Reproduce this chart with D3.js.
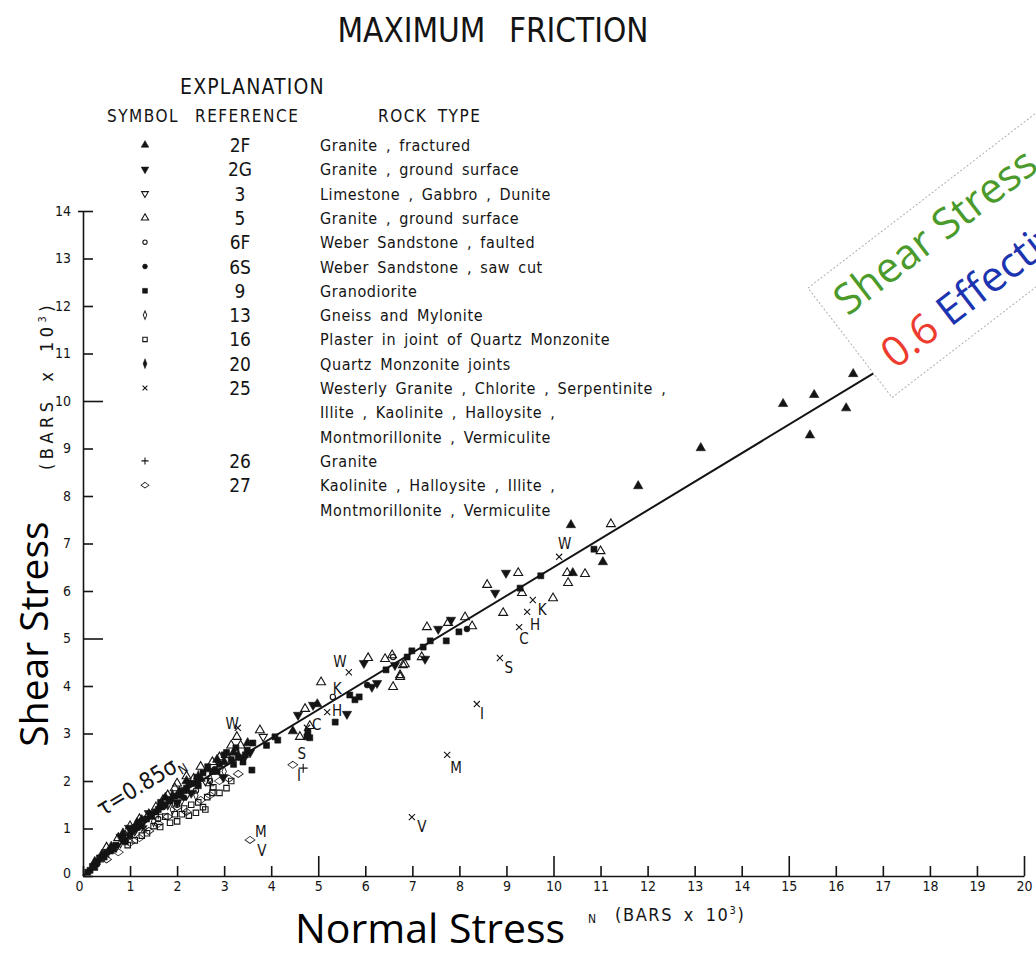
<!DOCTYPE html>
<html>
<meta charset="utf-8">
<style>
body { margin: 0; background: #fff; }
svg { display: block; background: #fff; }
.scan { font-family: "Liberation Sans Narrow", "DejaVu Sans Condensed", "Arial Narrow", sans-serif; fill: #141414; }
.ppt { font-family: "Open Sans", "Noto Sans", sans-serif; }
.axis path, .axis line { stroke: #141414; stroke-width: 1.6; }
.axis text { font-family: "Liberation Sans Narrow", "DejaVu Sans Condensed", sans-serif; font-size: 14px; fill: #141414; }
</style>
<svg width="1036" height="956"></svg>
<script src="https://d3js.org/d3.v7.min.js"></script>
<script>
// ---- data (sigma_N, tau in kbar) ----
var xTicks = [0,1,2,3,4,5,6,7,8,9,10,11,12,13,14,15,16,17,18,19,20];
var yTicks = [0,1,2,3,4,5,6,7,8,9,10,11,12,13,14];

var refs = ["2F","2G","3","5","6F","6S","9","13","16","20","25","26","27"];
var rockTypes = [
  ["Granite , fractured"],
  ["Granite , ground surface"],
  ["Limestone , Gabbro , Dunite"],
  ["Granite , ground surface"],
  ["Weber Sandstone , faulted"],
  ["Weber Sandstone , saw cut"],
  ["Granodiorite"],
  ["Gneiss and Mylonite"],
  ["Plaster in joint of Quartz Monzonite"],
  ["Quartz Monzonite joints"],
  ["Westerly Granite , Chlorite , Serpentinite ,", "Illite , Kaolinite , Halloysite ,", "Montmorillonite , Vermiculite"],
  ["Granite"],
  ["Kaolinite , Halloysite , Illite ,", "Montmorillonite , Vermiculite"]
];

var pts2F = [[16.37,10.57],[15.54,10.13],[14.88,9.94],[16.22,9.85],[15.45,9.28],[13.13,9.01],[11.80,8.21],
  [11.05,6.61],[10.37,7.39],[10.41,6.38],[4.46,3.05],[4.98,3.62],[0.55,0.52],[1.05,0.98],[1.45,1.25],
  [2.5,2.05],[3.0,2.4],[0.25,0.3],[0.6,0.62],[1.25,1.18],[1.65,1.5],[2.05,1.78],[2.65,2.25],[3.2,2.6],
  [0.4,0.45],[0.85,0.9],[1.15,1.12],[1.75,1.65],[2.2,2.0],[2.85,2.45],[3.5,2.8]];
var pts2G = [[8.99,6.38],[8.76,5.96],[7.82,5.39],[7.55,5.2],[7.27,4.57],[5.97,4.48],[6.25,4.06],[6.14,3.98],
  [6.63,4.44],[5.61,3.41],[4.89,3.6],[4.57,3.39],[0.98,1.01],[2.3,1.75],[2.98,2.08],[3.55,2.6],[2.0,1.55],
  [0.8,0.82],[1.85,1.62],[2.45,2.0],[1.4,1.32],[3.4,2.45]];
var pts3 = [[3.83,2.93],[1.1,0.95],[1.8,1.5],[2.6,2.0],[0.7,0.6],[2.2,1.7]];
var pts5 = [[11.22,7.41],[11.0,6.84],[10.67,6.36],[10.29,6.38],[10.31,6.17],[9.25,6.38],[8.59,6.13],[9.33,5.96],
  [9.99,5.85],[8.93,5.54],[8.12,5.45],[7.31,5.24],[7.76,5.33],[8.27,5.26],[7.2,4.61],[6.84,4.46],[6.74,4.23],
  [6.06,4.59],[6.42,4.57],[6.57,4.65],[6.8,4.44],[6.74,4.19],[6.59,3.98],[5.06,4.08],[4.72,3.52],[4.82,3.16],
  [4.61,2.93],[3.76,3.07],[3.27,2.93],[2.2,2.1],[1.8,1.7],[1.4,1.3],[2.9,2.5],[0.9,0.85],[0.75,0.8],[1.2,1.2],
  [1.55,1.45],[1.95,1.85],[2.35,2.05],[3.05,2.55],[3.35,2.75],[2.75,2.4],
  [0.5,0.6],[1.0,1.05],[1.7,1.6],[2.5,2.3],[3.15,2.75],[2.0,1.95]];
var pts6F = [[5.31,3.77],[6.59,4.61],[1.2,1.05],[2.4,1.8],[0.4,0.35],[1.6,1.2],[0.9,0.75],[2.0,1.5],[2.7,2.0]];
var pts6S = [[8.16,5.2],[6.04,4.02],[1.7,1.45],[2.8,2.25],[0.3,0.25],[2.15,1.65]];
var pts9 = [[10.86,6.88],[9.73,6.32],[9.29,6.06],[7.99,5.14],[7.72,4.95],[7.38,4.95],[7.23,4.82],[6.99,4.74],
  [6.89,4.61],[6.44,4.34],[5.67,3.81],[5.78,3.71],[5.87,3.77],[5.36,3.24],[4.78,3.03],[4.82,2.91],[4.76,2.93],
  [3.59,2.23],[3.61,2.8],[3.49,2.65],[2.55,2.17],[2.42,2.08],[3.2,2.35],[3.0,2.55],[2.2,1.85],[1.6,1.4],
  [0.3,0.3],[0.15,0.12],[0.6,0.55],[0.1,0.08],[0.2,0.2],[0.35,0.38],[0.45,0.4],[0.7,0.65],[0.85,0.78],
  [1.0,0.85],[1.15,1.02],[1.35,1.2],[1.55,1.35],[1.75,1.5],[1.95,1.68],[2.15,1.8],[2.35,1.95],[2.75,2.2],
  [2.9,2.35],[3.15,2.45],[3.3,2.5],[4.14,2.86],[4.08,2.93],[3.9,2.75],[3.4,2.4],
  [0.25,0.18],[0.5,0.5],[0.65,0.58],[0.9,0.72],[1.05,0.95],[1.25,1.05],[1.45,1.3],[1.65,1.55],[1.85,1.58],
  [2.05,1.7],[2.25,1.95],[2.45,1.9],[2.65,2.3],[2.85,2.2],[3.05,2.6],[3.25,2.7],[3.45,2.55]];
var pts13 = [[1.5,1.15],[2.1,1.6],[0.8,0.7],[2.7,2.05],[1.3,1.0],[1.9,1.4],[2.4,1.7],[3.0,2.2]];
var pts16 = [[2.1,1.3],[2.25,1.27],[2.4,1.33],[2.55,1.45],[2.64,1.66],[2.77,1.87],[1.85,1.12],[1.64,1.03],
  [1.36,0.9],[2.9,1.75],[3.05,1.85],[2.3,1.5],[1.1,0.75],[1.95,1.3],[2.0,1.15],
  [1.5,1.05],[1.75,1.25],[2.15,1.42],[2.45,1.55],[2.75,1.75],[1.25,0.85],[0.95,0.65],[2.6,1.4],[3.15,2.0]];
var pts20 = [[1.9,1.7],[2.45,2.1],[1.2,1.1],[3.3,2.55]];
var pts25 = [[10.12,6.72],[9.56,5.81],[9.44,5.56],[9.27,5.24],[8.86,4.59],[8.37,3.62],[7.74,2.55],[6.99,1.24],
  [5.65,4.29],[5.19,3.45],[4.76,3.12],[3.29,3.12],[0.5,0.45],[1.3,1.0]];
var pts26 = [[4.68,2.27],[1.6,1.3],[2.7,1.9]];
var pts27 = [[4.46,2.34],[3.55,0.76],[1.0,0.7],[1.4,0.95],[1.8,1.25],[2.5,1.6],[2.9,2.0],[0.5,0.35],
  [3.3,2.15],[2.0,1.45],[3.1,2.05],[1.2,0.8],[1.6,1.1],[2.2,1.35],[2.7,1.7],[0.75,0.5]];

// letters next to the clay points (label baseline in data units)
var tagText  = ["W","K","H","C","S","I","M","V","W","K","H","C","S","I","M","V","W"];
var tagSigma = [10.24,9.76,9.61,9.37,9.05,8.48,7.93,7.2, 5.46,5.4,5.4,4.97,4.65,4.59,3.78,3.8, 3.17];
var tagTau   = [6.88,5.49,5.18,4.88,4.27,3.31,2.17,0.93, 4.4,3.83,3.37,3.07,2.46,2.0,0.82,0.42, 3.09];

// Byerlee's friction line: tau = 0.85 sigma below 2 kbar, 0.5 + 0.6 sigma above
var lineSigma = [0, 2, 16.8];
var lineTau   = [0, 1.7, 10.58];

var series = {"2F": pts2F, "2G": pts2G, "3": pts3, "5": pts5, "6F": pts6F, "6S": pts6S, "9": pts9,
  "13": pts13, "16": pts16, "20": pts20, "25": pts25, "26": pts26, "27": pts27};

// ---- drawing ----
var svg = d3.select("svg");
var x = d3.scaleLinear().domain([0, 20]).range([83, 1024]);
var y = d3.scaleLinear().domain([0, 14]).range([876, 211]);

var symTimes = d3.symbolTimes || d3.symbolCross;
var symPlus = d3.symbolPlus || d3.symbolCross;
var look = {
  "2F": {type: d3.symbolTriangle, fill: true,  rot: 0,   sx: 1,   sy: 1,   size: 38},
  "2G": {type: d3.symbolTriangle, fill: true,  rot: 180, sx: 1,   sy: 1,   size: 38},
  "3":  {type: d3.symbolTriangle, fill: false, rot: 180, sx: 1,   sy: 1,   size: 30},
  "5":  {type: d3.symbolTriangle, fill: false, rot: 0,   sx: 1,   sy: 1,   size: 34},
  "6F": {type: d3.symbolCircle,   fill: false, rot: 0,   sx: 1,   sy: 1,   size: 22},
  "6S": {type: d3.symbolCircle,   fill: true,  rot: 0,   sx: 1,   sy: 1,   size: 28},
  "9":  {type: d3.symbolSquare,   fill: true,  rot: 0,   sx: 1,   sy: 1,   size: 36},
  "13": {type: d3.symbolDiamond,  fill: false, rot: 0,   sx: 0.8, sy: 1.1, size: 26},
  "16": {type: d3.symbolSquare,   fill: false, rot: 0,   sx: 1,   sy: 1,   size: 30},
  "20": {type: d3.symbolDiamond,  fill: true,  rot: 0,   sx: 0.8, sy: 1.2, size: 30},
  "25": {type: symTimes,          fill: false, rot: 0,   sx: 1,   sy: 1,   size: 26},
  "26": {type: symPlus,           fill: false, rot: 0,   sx: 1,   sy: 1,   size: 28},
  "27": {type: d3.symbolDiamond,  fill: false, rot: 0,   sx: 1.7, sy: 0.7, size: 30}
};
function drawSymbol(g, ref, px, py, k) {
  var s = look[ref];
  g.append("path")
    .attr("d", d3.symbol().type(s.type).size(s.size * k)())
    .attr("transform", "translate(" + px + "," + py + ") rotate(" + s.rot + ") scale(" + s.sx + "," + s.sy + ")")
    .attr("fill", s.fill ? "#141414" : "none")
    .attr("stroke", "#141414")
    .attr("stroke-width", (s.fill ? 0.6 : 1.1) / Math.max(s.sx, s.sy));
}

// title and explanation
svg.append("text").attr("class", "scan").attr("x", 493).attr("y", 42)
  .attr("text-anchor", "middle").style("font-size", "33px").style("word-spacing", "14px")
  .text("MAXIMUM FRICTION");
svg.append("text").attr("class", "scan").attr("x", 180).attr("y", 94)
  .style("font-size", "21px").style("letter-spacing", "1.2px").text("EXPLANATION");
[["SYMBOL", 107], ["REFERENCE", 195], ["ROCK TYPE", 378]].forEach(function(h) {
  svg.append("text").attr("class", "scan").attr("x", h[1]).attr("y", 122)
    .style("font-size", "17px").style("letter-spacing", "1.5px").style("word-spacing", "4px").text(h[0]);
});

var legend = svg.append("g");
var line = 0;
refs.forEach(function(r, i) {
  var cy = 145 + line * 24.3;
  drawSymbol(legend, r, 145, cy, 0.65);
  legend.append("text").attr("class", "scan").attr("x", 240).attr("y", cy + 7)
    .attr("text-anchor", "middle").style("font-size", "19px").text(r);
  rockTypes[i].forEach(function(t, j) {
    legend.append("text").attr("class", "scan").attr("x", 320).attr("y", cy + 6 + j * 24.3)
      .style("font-size", "16px").style("letter-spacing", "0.6px").style("word-spacing", "3px").text(t);
  });
  line += rockTypes[i].length;
});

// axes
var xAxis = svg.append("g").attr("class", "axis").attr("transform", "translate(0," + y(0) + ")")
  .call(d3.axisBottom(x).tickValues(xTicks).tickFormat(d3.format("d"))
    .tickSizeInner(-10).tickSizeOuter(0).tickPadding(5));
xAxis.selectAll(".tick line").filter(function(d) { return d % 5 === 0 && d > 0; }).attr("y2", -20);
var yAxis = svg.append("g").attr("class", "axis").attr("transform", "translate(" + x(0) + ",0)")
  .call(d3.axisLeft(y).tickValues(yTicks).tickFormat(d3.format("d"))
    .tickSizeInner(-10).tickSizeOuter(0).tickPadding(12));
yAxis.selectAll(".tick line").filter(function(d) { return d === 5 || d === 10; }).attr("x2", 20);
yAxis.selectAll(".tick line").filter(function(d) { return d === 14; }).attr("x1", -5);
xAxis.selectAll(".tick text").filter(function(d) { return d === 0; }).attr("dx", -4);
yAxis.selectAll(".tick text").filter(function(d) { return d === 0; }).attr("dy", "0.1em");

// friction line
svg.append("path")
  .datum(d3.range(lineSigma.length))
  .attr("fill", "none").attr("stroke", "#141414").attr("stroke-width", 2)
  .attr("d", d3.line().x(function(i) { return x(lineSigma[i]); }).y(function(i) { return y(lineTau[i]); }));

// data points
var marks = svg.append("g");
refs.forEach(function(r) {
  series[r].forEach(function(p) { drawSymbol(marks, r, x(p[0]), y(p[1]), 1); });
});
tagText.forEach(function(t, i) {
  svg.append("text").attr("class", "scan").attr("x", x(tagSigma[i])).attr("y", y(tagTau[i]))
    .attr("text-anchor", "middle").style("font-size", "15px").text(t);
});

// tau label along the line
var tl = svg.append("text").attr("class", "scan")
  .attr("transform", "translate(" + x(0.42) + "," + y(1.25) + ") rotate(-31)")
  .style("font-size", "23px");
tl.append("tspan").text("τ=0.85σ");
tl.append("tspan").attr("dy", 5).style("font-size", "13px").text("N");

// original axis unit labels
var yl = svg.append("text").attr("class", "scan")
  .attr("transform", "translate(53,470) rotate(-90)").style("font-size", "18px")
  .style("letter-spacing", "4.5px").style("word-spacing", "6px");
yl.append("tspan").text("(BARS x 10");
yl.append("tspan").attr("dy", -7).style("font-size", "11px").text("3");
yl.append("tspan").attr("dy", 7).text(")");
svg.append("text").attr("class", "scan").attr("x", 588).attr("y", 923).style("font-size", "12px").text("N");
var xl = svg.append("text").attr("class", "scan").attr("x", 615).attr("y", 921)
  .style("font-size", "18px").style("letter-spacing", "1.6px").style("word-spacing", "4px");
xl.append("tspan").text("(BARS x 10");
xl.append("tspan").attr("dy", -7).style("font-size", "11px").text("3");
xl.append("tspan").attr("dy", 7).text(")");

// slide overlay labels
svg.append("text").attr("class", "ppt").attr("transform", "translate(48,634) rotate(-90)")
  .attr("text-anchor", "middle").style("font-size", "39px").attr("fill", "#000").text("Shear Stress");
svg.append("text").attr("class", "ppt").attr("x", 295).attr("y", 943)
  .style("font-size", "41px").attr("fill", "#000").text("Normal Stress");

var box = svg.append("g").attr("transform", "translate(808,288) rotate(-37.5)");
box.append("rect").attr("width", 460).attr("height", 138)
  .attr("fill", "#fff").attr("stroke", "#b0b0b0").attr("stroke-width", 1).attr("stroke-dasharray", "2,2");
box.append("text").attr("class", "ppt").attr("x", 14).attr("y", 47)
  .style("font-size", "42px").attr("fill", "#4a9a2c").text("Shear Stress");
var l2 = box.append("text").attr("class", "ppt").attr("x", 19).attr("y", 118).style("font-size", "42px");
l2.append("tspan").attr("fill", "#ee3b2f").text("0.6 ");
l2.append("tspan").attr("fill", "#1d34b0").text("Effective");
</script>
</html>
